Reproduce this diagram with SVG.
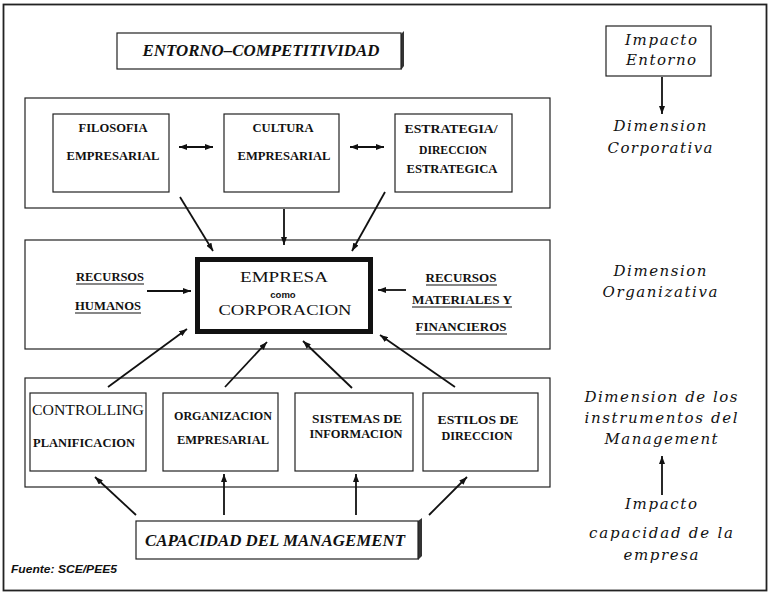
<svg xmlns="http://www.w3.org/2000/svg" width="771" height="594" viewBox="0 0 771 594">
<defs>
<marker id="ah" viewBox="0 0 8 6" refX="8" refY="3" markerWidth="8" markerHeight="6" markerUnits="userSpaceOnUse" orient="auto-start-reverse">
<path d="M0,0 L8,3 L0,6 z" fill="#111"/>
</marker>
<style>
.frame{fill:none;stroke:#222;stroke-width:1.2}
.box{fill:#fff;stroke:#222;stroke-width:1.2}
.b{font-family:"Liberation Serif",serif;font-weight:bold;font-size:13px;text-anchor:middle;fill:#111}
.r{font-family:"Liberation Serif",serif;font-size:15px;text-anchor:middle;fill:#111}
.it{font-family:"DejaVu Serif",serif;font-style:italic;font-size:15px;text-anchor:middle;fill:#111}
.bi{font-family:"Liberation Serif",serif;font-style:italic;font-weight:bold;font-size:17px;text-anchor:middle;fill:#111}
.c{stroke:#111;stroke-width:1.8;fill:none;marker-end:url(#ah)}
.ul{stroke:#111;stroke-width:1.2}
</style>
</defs>
<rect x="0" y="0" width="771" height="594" fill="#fff"/>
<rect x="3.5" y="4.5" width="763" height="586" fill="none" stroke="#222" stroke-width="1.8"/>

<g id="entorno">
<path d="M404,31 L404,66 L401,70 L401,34 z" fill="#333"/>
<rect class="box" x="117" y="33" width="284" height="36"/>
<text class="bi" x="261" y="56" textLength="237" lengthAdjust="spacingAndGlyphs">ENTORNO–COMPETITIVIDAD</text>
</g>

<g id="impacto-entorno">
<rect class="box" x="606" y="26" width="105" height="50"/>
<text class="it" x="661" y="45" textLength="72" lengthAdjust="spacing">Impacto</text>
<text class="it" x="661" y="65" textLength="70" lengthAdjust="spacing">Entorno</text>
</g>

<g id="dim-corporativa">
<text class="it" x="660" y="131" textLength="93" lengthAdjust="spacing">Dimension</text>
<text class="it" x="660" y="153" textLength="105" lengthAdjust="spacing">Corporativa</text>
</g>

<g id="dim-organizativa">
<text class="it" x="660" y="276" textLength="93" lengthAdjust="spacing">Dimension</text>
<text class="it" x="660" y="297" textLength="115" lengthAdjust="spacing">Organizativa</text>
</g>

<g id="dim-instrumentos">
<text class="it" x="661" y="402" textLength="153" lengthAdjust="spacing">Dimension de los</text>
<text class="it" x="661" y="423" textLength="153" lengthAdjust="spacing">instrumentos del</text>
<text class="it" x="661" y="444" textLength="113" lengthAdjust="spacing">Management</text>
</g>

<g id="impacto-capacidad">
<text class="it" x="661" y="509" textLength="72" lengthAdjust="spacing">Impacto</text>
<text class="it" x="661" y="538" textLength="144" lengthAdjust="spacing">capacidad de la</text>
<text class="it" x="661" y="560" textLength="75" lengthAdjust="spacing">empresa</text>
</g>

<g id="nivel-corporativo">
<rect class="frame" x="25" y="98" width="525" height="110"/>
</g>
<g id="filosofia">
<rect class="box" x="53" y="114" width="116" height="78"/>
<text class="b" x="113" y="132" textLength="69" lengthAdjust="spacingAndGlyphs">FILOSOFIA</text>
<text class="b" x="113" y="160" textLength="93" lengthAdjust="spacingAndGlyphs">EMPRESARIAL</text>
</g>
<g id="cultura">
<rect class="box" x="224" y="114" width="115" height="78"/>
<text class="b" x="283" y="132" textLength="61" lengthAdjust="spacingAndGlyphs">CULTURA</text>
<text class="b" x="284" y="160" textLength="93" lengthAdjust="spacingAndGlyphs">EMPRESARIAL</text>
</g>
<g id="estrategia">
<rect class="box" x="395" y="114" width="117" height="78"/>
<text class="b" x="451" y="133" textLength="93" lengthAdjust="spacingAndGlyphs">ESTRATEGIA/</text>
<text class="b" x="453" y="154" textLength="68" lengthAdjust="spacingAndGlyphs">DIRECCION</text>
<text class="b" x="452" y="173" textLength="91" lengthAdjust="spacingAndGlyphs">ESTRATEGICA</text>
</g>

<g id="nivel-organizativo">
<rect class="frame" x="25" y="240" width="525" height="109"/>
</g>
<g id="recursos-humanos">
<text class="b" x="110" y="281" textLength="68" lengthAdjust="spacingAndGlyphs">RECURSOS</text>
<line class="ul" x1="76" y1="284" x2="144" y2="284"/>
<text class="b" x="108" y="310" textLength="66" lengthAdjust="spacingAndGlyphs">HUMANOS</text>
<line class="ul" x1="75" y1="313" x2="141" y2="313"/>
</g>
<g id="empresa">
<rect x="197.5" y="259.5" width="173" height="72" fill="#fff" stroke="#111" stroke-width="5"/>
<text class="r" x="284" y="282" font-size="21" textLength="88" lengthAdjust="spacingAndGlyphs">EMPRESA</text>
<text x="283" y="298" font-family="Liberation Sans, sans-serif" font-weight="bold" font-size="9.5" text-anchor="middle" fill="#111">como</text>
<text class="r" x="285" y="315" font-size="21" textLength="133" lengthAdjust="spacingAndGlyphs">CORPORACION</text>
</g>
<g id="recursos-materiales">
<text class="b" x="461" y="282" textLength="71" lengthAdjust="spacingAndGlyphs">RECURSOS</text>
<line class="ul" x1="426" y1="285" x2="497" y2="285"/>
<text class="b" x="462" y="304" textLength="100" lengthAdjust="spacingAndGlyphs">MATERIALES Y</text>
<line class="ul" x1="412" y1="307" x2="512" y2="307"/>
<text class="b" x="461" y="331" textLength="91" lengthAdjust="spacingAndGlyphs">FINANCIEROS</text>
<line class="ul" x1="416" y1="334" x2="507" y2="334"/>
</g>

<g id="nivel-instrumentos">
<rect class="frame" x="25" y="378" width="525" height="109"/>
</g>
<g id="controlling">
<rect class="box" x="30" y="393" width="116" height="78"/>
<text class="r" x="88" y="415" font-size="16" textLength="112" lengthAdjust="spacingAndGlyphs">CONTROLLING</text>
<text class="b" x="84" y="447" textLength="102" lengthAdjust="spacingAndGlyphs">PLANIFICACION</text>
</g>
<g id="organizacion">
<rect class="box" x="163" y="393" width="115" height="78"/>
<text class="b" x="223" y="420" textLength="98" lengthAdjust="spacingAndGlyphs">ORGANIZACION</text>
<text class="b" x="223" y="444" textLength="92" lengthAdjust="spacingAndGlyphs">EMPRESARIAL</text>
</g>
<g id="sistemas">
<rect class="box" x="295" y="393" width="118" height="78"/>
<text class="b" x="357" y="423" textLength="90" lengthAdjust="spacingAndGlyphs">SISTEMAS DE</text>
<text class="b" x="356" y="438" textLength="93" lengthAdjust="spacingAndGlyphs">INFORMACION</text>
</g>
<g id="estilos">
<rect class="box" x="423" y="393" width="115" height="78"/>
<text class="b" x="478" y="424" textLength="81" lengthAdjust="spacingAndGlyphs">ESTILOS DE</text>
<text class="b" x="477" y="440" textLength="71" lengthAdjust="spacingAndGlyphs">DIRECCION</text>
</g>

<g id="capacidad">
<path d="M422,518 L422,556 L418,560 L418,521 z" fill="#333"/>
<rect class="box" x="136" y="521" width="282" height="38"/>
<text class="bi" x="275" y="546" textLength="260" lengthAdjust="spacingAndGlyphs">CAPACIDAD DEL MANAGEMENT</text>
</g>

<g id="fuente">
<text x="11" y="573" font-family="Liberation Sans, sans-serif" font-style="italic" font-weight="bold" font-size="10.5" fill="#111" textLength="106" lengthAdjust="spacingAndGlyphs">Fuente: SCE/PEE5</text>
</g>

<g id="connectors">
<line class="c" x1="179" y1="147" x2="213" y2="147" marker-start="url(#ah)"/>
<line class="c" x1="350" y1="147" x2="384" y2="147" marker-start="url(#ah)"/>
<line class="c" x1="180" y1="197" x2="213" y2="251"/>
<line class="c" x1="284" y1="209" x2="284" y2="245"/>
<line class="c" x1="385" y1="192" x2="352" y2="251"/>
<line class="c" x1="147" y1="291" x2="191" y2="291"/>
<line class="c" x1="406" y1="290" x2="378" y2="290"/>
<line class="c" x1="108" y1="387" x2="187" y2="329"/>
<line class="c" x1="225" y1="387" x2="267" y2="342"/>
<line class="c" x1="352" y1="388" x2="303" y2="341"/>
<line class="c" x1="455" y1="387" x2="380" y2="335"/>
<line class="c" x1="136" y1="515" x2="95" y2="477"/>
<line class="c" x1="224" y1="515" x2="224" y2="474"/>
<line class="c" x1="356" y1="515" x2="356" y2="474"/>
<line class="c" x1="429" y1="515" x2="467" y2="477"/>
<line class="c" x1="662" y1="77" x2="662" y2="114"/>
<line class="c" x1="662" y1="495" x2="662" y2="456"/>
</g>
</svg>
